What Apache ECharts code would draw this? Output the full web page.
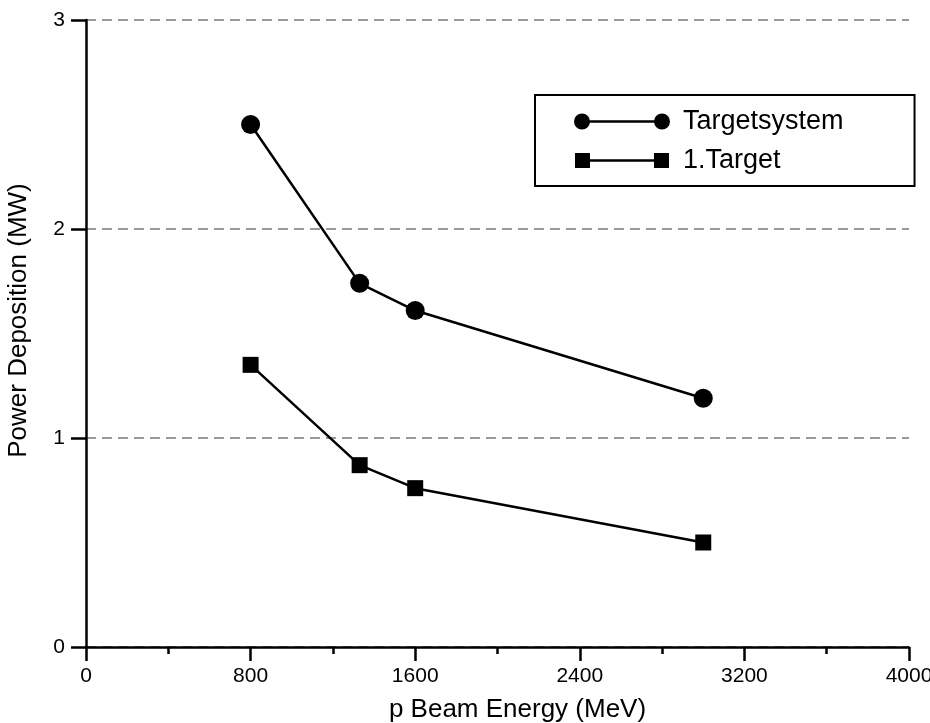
<!DOCTYPE html>
<html>
<head>
<meta charset="utf-8">
<script src="https://cdn.jsdelivr.net/npm/echarts@6/dist/echarts.min.js"></script>
<style>
	html, body { margin: 0; padding: 0; background: #fff; }
	#myChart { width: 930px; height: 723px; }
</style>
</head>
<body>
<div id="myChart"></div>
<script>
	// beam energy (MeV)
	var energy = [800, 1330, 1600, 3000];
	// power deposition (MW)
	var targetSystem = [2.5, 1.74, 1.61, 1.19];
	var firstTarget = [1.35, 0.87, 0.76, 0.50];
	var seriesNames = ['Targetsystem', '1.Target'];

	function pairs(xs, ys) {
		return xs.map(function(x, i) { return [x, ys[i]]; });
	}

	// legend icons: marker - line - marker
	var circleIcon = 'path://M0,8 A8,8 0 1,1 16,8 A8,8 0 1,1 0,8 Z M15,6.8 L81,6.8 L81,9.2 L15,9.2 Z M80,8 A8,8 0 1,1 96,8 A8,8 0 1,1 80,8 Z';
	var squareIcon = 'path://M1,0.5 L16,0.5 L16,15.5 L1,15.5 Z M16,6.8 L80,6.8 L80,9.2 L16,9.2 Z M80,0.5 L95,0.5 L95,15.5 L80,15.5 Z M0,0 L0.01,0 L0.01,0.01 Z M96,16 L95.99,16 L95.99,15.99 Z';

	var myChart = echarts.init(document.getElementById('myChart'));

	var option = {
		animation: false,
		backgroundColor: '#fff',
		textStyle: {
			fontFamily: 'Liberation Sans, Arial, sans-serif',
			color: '#000'
		},
		grid: {
			left: 86,
			right: 21,
			top: 20,
			bottom: 76,
			outerBoundsMode: 'none'
		},
		legend: {
			orient: 'vertical',
			left: 535,
			top: 95,
			backgroundColor: '#fff',
			borderColor: '#000',
			borderWidth: 2,
			borderRadius: 0,
			padding: [13, 71, 12, 39],
			itemGap: 12,
			itemWidth: 96,
			itemHeight: 16,
			selectedMode: false,
			textStyle: {
				fontSize: 27,
				color: '#000',
				padding: [0, 0, 0, 8]
			},
			data: [
				{ name: seriesNames[0], icon: circleIcon },
				{ name: seriesNames[1], icon: squareIcon }
			]
		},
		xAxis: {
			type: 'value',
			min: 0,
			max: 4000,
			interval: 800,
			name: 'p Beam Energy (MeV)',
			nameLocation: 'middle',
			nameGap: 50,
			nameTextStyle: {
				fontSize: 26,
				color: '#000',
				padding: [0, 0, 0, 40]
			},
			axisLine: { lineStyle: { color: '#000', width: 2.5 } },
			axisTick: { show: true, length: 14, lineStyle: { color: '#000', width: 2.5 } },
			minorTick: { show: true, splitNumber: 2, length: 7, lineStyle: { color: '#000', width: 2.5 } },
			axisLabel: {
				fontSize: 21,
				color: '#000',
				margin: 19,
				formatter: function(v) { return String(v); }
			},
			splitLine: { show: false }
		},
		yAxis: {
			type: 'value',
			min: 0,
			max: 3,
			interval: 1,
			name: 'Power Deposition (MW)',
			nameLocation: 'middle',
			nameGap: 54,
			nameTextStyle: {
				fontSize: 26,
				color: '#000',
				padding: [0, 0, 0, 26]
			},
			axisLine: { show: true, lineStyle: { color: '#000', width: 2.5 } },
			axisTick: { show: true, length: 15, lineStyle: { color: '#000', width: 2.5 } },
			axisLabel: { fontSize: 21, color: '#000', margin: 21 },
			splitLine: {
				show: true,
				lineStyle: { color: '#7a7a7a', width: 1.5, type: [10, 6] }
			}
		},
		series: [{
				name: seriesNames[0],
				type: 'line',
				data: pairs(energy, targetSystem),
				symbol: 'circle',
				symbolSize: 19,
				lineStyle: { color: '#000', width: 2.5 },
				itemStyle: { color: '#000' }
			},
			{
				name: seriesNames[1],
				type: 'line',
				data: pairs(energy, firstTarget),
				symbol: 'rect',
				symbolSize: 16,
				lineStyle: { color: '#000', width: 2.5 },
				itemStyle: { color: '#000' }
			}
		]
	};

	myChart.setOption(option);
</script>
</body>
</html>
